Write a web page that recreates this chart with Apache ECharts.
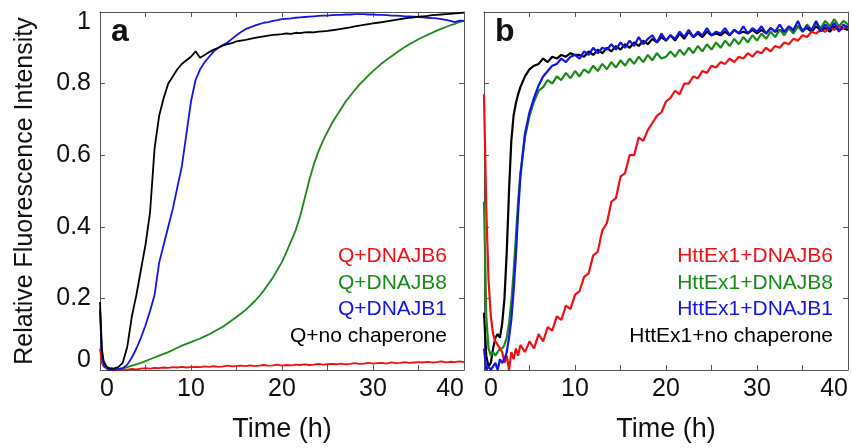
<!DOCTYPE html>
<html><head><meta charset="utf-8">
<script src="https://cdn.jsdelivr.net/npm/echarts@6/dist/echarts.min.js"></script>
<style>html,body{margin:0;padding:0;background:#fff}#c{width:852px;height:448px}</style>
</head><body><div id="c"></div>
<script>
// ---------- Panel a ----------
const aT = [0,0.2,0.4,0.7,
 1,1.5,2,2.5,3,3.5,4,4.5,5,
 5.5,6,6.5,7,7.5,8,8.5,9,9.5,10,
 10.5,11,11.5,12,12.5,13,13.5,14,14.5,15,
 15.5,16,16.5,17,17.5,18,18.5,19,19.5,20,
 20.5,21,21.5,22,22.5,23,23.5,24,24.5,25,
 25.5,26,26.5,27,27.5,28,28.5,29,29.5,30,
 30.5,31,31.5,32,32.5,33,33.5,34,34.5,35,
 35.5,36,36.5,37,37.5,38,38.5,39,39.5,40];
const aRed = [0.06,0.02,0.01,0.005,
 0.002,0.0,0.0,0.002,0.001,0.003,0.002,0.004,0.005,
 0.004,0.006,0.005,0.007,0.006,0.008,0.007,0.009,0.007,0.008,
 0.009,0.008,0.01,0.009,0.011,0.009,0.01,0.012,0.01,0.011,
 0.012,0.011,0.013,0.011,0.012,0.014,0.012,0.013,0.015,0.012,
 0.014,0.013,0.015,0.014,0.016,0.014,0.015,0.017,0.015,0.016,
 0.017,0.016,0.018,0.016,0.017,0.019,0.017,0.018,0.02,0.018,
 0.019,0.02,0.018,0.021,0.019,0.02,0.022,0.02,0.021,0.022,
 0.021,0.023,0.021,0.022,0.024,0.021,0.023,0.022,0.024,0.022];
const aGreen = [0.17,0.05,0.02,0.01,
 0.005,0.003,0.003,0.005,0.008,0.012,0.016,0.02,0.025,
 0.03,0.035,0.04,0.045,0.05,0.056,0.062,0.068,0.073,0.078,
 0.083,0.088,0.094,0.1,0.107,0.114,0.121,0.13,0.139,0.148,
 0.158,0.168,0.18,0.192,0.206,0.222,0.24,0.258,0.28,0.302,
 0.33,0.36,0.39,0.43,0.48,0.53,0.575,0.61,0.64,0.665,
 0.69,0.71,0.73,0.75,0.766,0.782,0.797,0.81,0.823,0.835,
 0.846,0.857,0.867,0.876,0.885,0.894,0.902,0.91,0.917,0.924,
 0.93,0.936,0.942,0.948,0.953,0.958,0.963,0.967,0.972,0.976];
const aBlue = [0.17,0.04,0.015,0.005,
 0.0,0.0,0.002,0.005,0.015,0.035,0.06,0.09,0.125,
 0.165,0.21,0.3,0.35,0.4,0.45,0.51,0.57,0.66,0.75,
 0.81,0.84,0.86,0.875,0.89,0.9,0.908,0.915,0.925,0.935,
 0.944,0.952,0.957,0.962,0.966,0.97,0.972,0.975,0.977,0.98,
 0.981,0.982,0.984,0.985,0.986,0.987,0.988,0.989,0.99,0.99,
 0.991,0.992,0.992,0.993,0.993,0.994,0.994,0.994,0.993,0.993,
 0.992,0.992,0.991,0.99,0.99,0.989,0.988,0.988,0.987,0.986,
 0.985,0.984,0.983,0.982,0.98,0.978,0.975,0.972,0.976,0.975];
const aBlack = [0.19,0.06,0.025,0.01,
 0.005,0.004,0.008,0.02,0.065,0.15,0.21,0.28,0.35,
 0.44,0.62,0.71,0.76,0.8,0.82,0.84,0.855,0.865,0.875,
 0.89,0.872,0.88,0.888,0.895,0.9,0.906,0.91,0.913,0.918,
 0.92,0.922,0.925,0.928,0.93,0.932,0.934,0.936,0.937,0.938,
 0.94,0.939,0.942,0.941,0.943,0.944,0.943,0.945,0.946,0.947,
 0.949,0.951,0.953,0.955,0.957,0.96,0.962,0.964,0.966,0.968,
 0.97,0.972,0.974,0.976,0.978,0.98,0.982,0.984,0.985,0.987,
 0.988,0.989,0.991,0.992,0.993,0.994,0.995,0.996,0.997,0.998];

// ---------- Panel b ----------
const bT = [0,0.25,0.5,0.75,1,1.25,1.5,1.75,2,2.25,2.5,2.75,3,3.25,3.5,3.75,4,
 4.5,5,5.5,6,6.5,7,7.5,8,8.5,9,9.5,10,
 10.5,11,11.5,12,12.5,13,13.5,14,14.5,15,
 15.5,16,16.5,17,17.5,18,18.5,19,19.5,20,
 20.5,21,21.5,22,22.5,23,23.5,24,24.5,25,
 25.5,26,26.5,27,27.5,28,28.5,29,29.5,30,
 30.5,31,31.5,32,32.5,33,33.5,34,34.5,35,
 35.5,36,36.5,37,37.5,38,38.5,39,39.5,40];
const bBlack = [0.16,0.04,0.01,0.02,0.06,0.09,0.1,0.09,0.13,0.2,0.33,0.5,0.64,0.71,0.745,0.77,0.79,
 0.82,0.84,0.85,0.855,0.87,0.86,0.875,0.87,0.88,0.875,0.885,0.88,
 0.88,0.875,0.89,0.88,0.895,0.885,0.9,0.89,0.905,0.895,
 0.91,0.9,0.915,0.905,0.92,0.91,0.925,0.915,0.93,0.92,
 0.935,0.92,0.94,0.925,0.945,0.93,0.94,0.93,0.945,0.935,
 0.94,0.935,0.945,0.935,0.95,0.94,0.945,0.94,0.95,0.94,
 0.95,0.94,0.955,0.945,0.95,0.945,0.955,0.945,0.96,0.95,
 0.955,0.945,0.96,0.95,0.955,0.945,0.96,0.95,0.955,0.95];
const bGreen = [0.47,0.15,0.06,0.04,0.05,0.04,0.05,0.06,0.06,0.07,0.09,0.13,0.19,0.27,0.37,0.47,0.55,
 0.65,0.71,0.75,0.78,0.79,0.81,0.8,0.82,0.81,0.83,0.815,0.835,
 0.82,0.84,0.83,0.85,0.835,0.855,0.84,0.86,0.845,0.865,
 0.85,0.87,0.855,0.875,0.86,0.88,0.865,0.885,0.87,0.875,
 0.89,0.875,0.895,0.88,0.9,0.885,0.905,0.89,0.91,0.895,
 0.915,0.9,0.92,0.905,0.925,0.91,0.93,0.915,0.935,0.92,
 0.94,0.925,0.945,0.93,0.95,0.935,0.955,0.94,0.96,0.945,
 0.965,0.95,0.97,0.955,0.975,0.96,0.98,0.96,0.975,0.965];
const bRed = [0.77,0.45,0.25,0.15,0.1,0.08,0.07,0.06,0.05,0.02,0.04,0.0,0.05,0.03,0.06,0.04,0.07,
 0.05,0.08,0.06,0.1,0.08,0.12,0.11,0.15,0.14,0.18,0.17,0.21,
 0.22,0.26,0.27,0.32,0.33,0.39,0.41,0.47,0.48,0.54,
 0.55,0.6,0.6,0.65,0.64,0.67,0.69,0.71,0.72,0.75,
 0.76,0.78,0.77,0.8,0.8,0.82,0.815,0.835,0.83,0.85,
 0.845,0.86,0.855,0.87,0.86,0.875,0.87,0.885,0.875,0.89,
 0.885,0.9,0.89,0.905,0.9,0.915,0.91,0.925,0.92,0.935,
 0.93,0.945,0.94,0.95,0.945,0.957,0.95,0.96,0.955,0.962];
const bBlue = [0.06,0.0,0.01,0.0,0.01,0.02,0.0,0.03,0.02,0.03,0.05,0.09,0.14,0.22,0.32,0.44,0.54,
 0.66,0.72,0.76,0.795,0.82,0.835,0.85,0.855,0.87,0.86,0.875,0.88,
 0.87,0.89,0.88,0.9,0.885,0.9,0.895,0.91,0.895,0.915,
 0.9,0.92,0.905,0.93,0.91,0.925,0.935,0.915,0.94,0.92,
 0.935,0.925,0.945,0.93,0.95,0.93,0.945,0.935,0.955,0.935,
 0.945,0.94,0.955,0.935,0.95,0.94,0.96,0.94,0.955,0.945,
 0.96,0.94,0.955,0.945,0.965,0.945,0.96,0.95,0.975,0.945,
 0.96,0.95,0.975,0.945,0.965,0.95,0.97,0.945,0.965,0.955];

const yTicks = ['0','0.2','0.4','0.6','0.8','1'];
const aLegend = ['Q+DNAJB6','Q+DNAJB8','Q+DNAJB1','Q+no chaperone'];
const bLegend = ['HttEx1+DNAJB6','HttEx1+DNAJB8','HttEx1+DNAJB1','HttEx1+no chaperone'];
const colors = {red:'#f01010', green:'#198a19', blue:'#1414e6', black:'#000000'};

const FONT = 'Liberation Sans, Arial, sans-serif';
const AX = '#555';
const zip = (t, v) => t.map((x, i) => [x, v[i]]);

function xAx(grid, pos, labels) {
  return {
    type:'value', gridIndex:grid, position:pos, min:0, max:40, interval:10,
    axisLine:{show:true, onZero:false, lineStyle:{color:AX, width:1}},
    axisTick:{show:true, inside:true, length:5, lineStyle:{color:AX}},
    minorTick:{show:true, splitNumber:2, length:5, lineStyle:{color:AX}},
    splitLine:{show:false}, minorSplitLine:{show:false},
    axisLabel:{show:labels, fontFamily:FONT, fontSize:25, color:'#111', margin:7,
      alignMinLabel:'left', alignMaxLabel:'right'},
    name: labels ? 'Time (h)' : '', nameLocation:'middle', nameGap:46,
    nameTextStyle:{fontFamily:FONT, fontSize:27, color:'#111'}
  };
}
function yAx(grid, pos, labels, title) {
  return {
    type:'value', gridIndex:grid, position:pos, min:0, max:1, interval:0.2,
    axisLine:{show:true, onZero:false, lineStyle:{color:AX, width:1}},
    axisTick:{show:true, inside:true, length:5, lineStyle:{color:AX}},
    splitLine:{show:false},
    axisLabel:{show:labels, fontFamily:FONT, fontSize:25, color:'#111', margin:9,
      formatter: v => { const i = Math.round(v*5); const s = yTicks[i];
        if (i === 5) return '{t|' + s + '}'; if (i === 0) return '{b|' + s + '}'; return s; },
      rich:{ t:{fontFamily:FONT, fontSize:25, color:'#111', padding:[20,0,0,0]},
             b:{fontFamily:FONT, fontSize:25, color:'#111', padding:[0,0,20,0]} }},
    name: title ? 'Relative Fluorescence Intensity' : '', nameLocation:'middle', nameGap:62,
    nameTextStyle:{fontFamily:FONT, fontSize:25, color:'#111'}
  };
}
function line(name, data, color, xi, yi, w) {
  return {name, type:'line', data, xAxisIndex:xi, yAxisIndex:yi, showSymbol:false, symbol:'none',
    lineStyle:{color, width:w}, itemStyle:{color}, clip:true, animation:false, z:2};
}

const legendText = (labels, right, cols) => labels.map((s, i) => ({
  type:'text', right: right, top: 246 + i*26.5,
  style:{text:s, fill:cols[i], font:'21px ' + FONT}
}));
const legCols = [colors.red, colors.green, colors.blue, colors.black];

const option = {
  backgroundColor:'#fff',
  animation:false,
  grid:[{left:100, top:12, width:364, height:360},
        {left:484, top:12, width:364, height:360}],
  xAxis:[xAx(0,'bottom',true), xAx(0,'top',false), xAx(1,'bottom',true), xAx(1,'top',false)],
  yAxis:[yAx(0,'left',true,true), yAx(0,'right',false,false), yAx(1,'left',false,false), yAx(1,'right',false,false)],
  series:[
    line('Q+DNAJB6', zip(aT, aRed), colors.red, 0, 0, 1.8),
    line('Q+DNAJB8', zip(aT, aGreen), colors.green, 0, 0, 1.8),
    line('Q+DNAJB1', zip(aT, aBlue), colors.blue, 0, 0, 1.8),
    line('Q+no chaperone', zip(aT, aBlack), colors.black, 0, 0, 1.8),
    line('HttEx1+no chaperone', zip(bT, bBlack), colors.black, 2, 2, 2.2),
    line('HttEx1+DNAJB8', zip(bT, bGreen), colors.green, 2, 2, 2.2),
    line('HttEx1+DNAJB6', zip(bT, bRed), colors.red, 2, 2, 2.2),
    line('HttEx1+DNAJB1', zip(bT, bBlue), colors.blue, 2, 2, 2.2)
  ],
  graphic:[
    {type:'text', left:111, top:16, style:{text:'a', fill:'#111', font:'bold 32px ' + FONT}},
    {type:'text', left:495, top:16, style:{text:'b', fill:'#111', font:'bold 32px ' + FONT}},
    ...legendText(aLegend, 852-447, legCols),
    ...legendText(bLegend, 852-833, legCols)
  ]
};
const chart = echarts.init(document.getElementById('c'), null, {renderer:'canvas'});
chart.setOption(option);
</script></body></html>
